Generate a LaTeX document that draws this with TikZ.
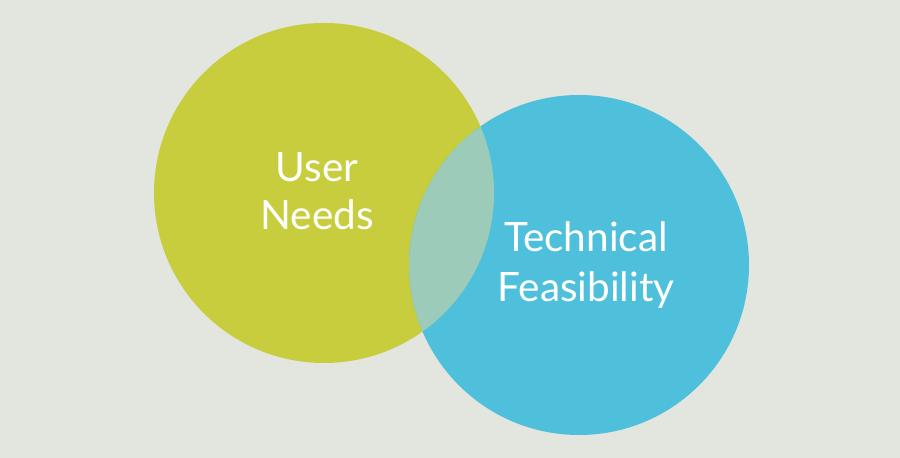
\documentclass[tikz,border=0pt]{standalone}
\usepackage{fontspec}
\setmainfont{Lato}
\definecolor{bg}{HTML}{E3E5DF}
\definecolor{lime}{HTML}{C8CD3E}
\definecolor{sky}{HTML}{4FC0DB}
\definecolor{lens}{HTML}{9CCBBA}
\begin{document}
\begin{tikzpicture}[x=1pt,y=1pt,
  lbl/.style={text=white,anchor=base,inner sep=0pt,font=\fontsize{40.5}{40.5}\selectfont}]
\fill[bg] (0,0) rectangle (900,458);
\useasboundingbox (0,0) rectangle (900,458);
\fill[lime] (324,265) circle[radius=170];
\fill[sky] (579,193) circle[radius=170];
\begin{scope}
\clip (324,265) circle[radius=170];
\fill[lens] (579,193) circle[radius=170];
\end{scope}
\node[lbl] (u1) at (317,276) {User};
\node[lbl] (u2) at (317,228) {Needs};
\node[lbl] (t1) at (586,206) {Technical};
\node[lbl] (t2) at (586,156) {Feasibility};
\end{tikzpicture}
\end{document}
